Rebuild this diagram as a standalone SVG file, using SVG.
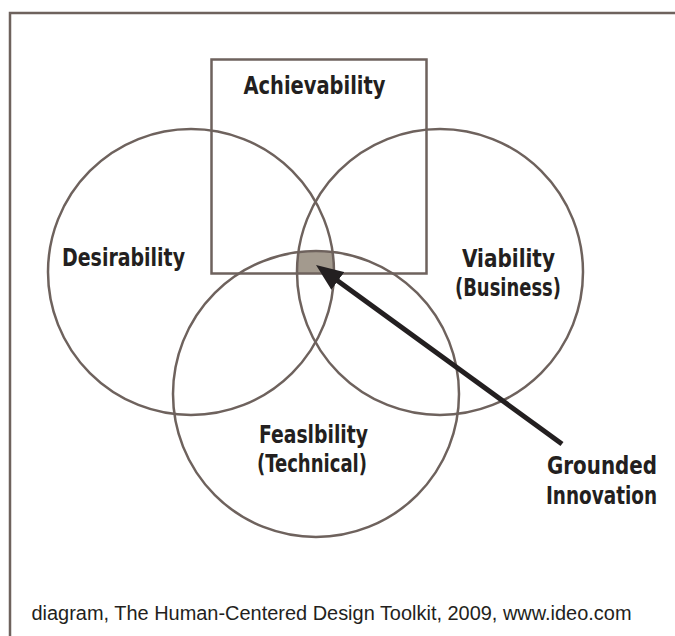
<svg xmlns="http://www.w3.org/2000/svg" width="675" height="636" viewBox="0 0 675 636">
<style>
.shape{fill:none;stroke:#6e625d;stroke-width:2.5}
.lbl{font-family:"DejaVu Sans Condensed","DejaVu Sans",sans-serif;font-weight:bold;font-size:24px;fill:#231f20;text-anchor:middle}
.foot{font-family:"Liberation Sans",Arial,sans-serif;font-size:20px;fill:#231f20}
.arrow{stroke:#231f20;stroke-width:5;fill:none}
</style>
<defs>
<marker id="head" markerUnits="userSpaceOnUse" markerWidth="27" markerHeight="22" refX="5" refY="11" orient="auto">
<path d="M0,0 L27,11 L0,22 Z" fill="#231f20"/>
</marker>
</defs>
<rect width="675" height="636" fill="#ffffff"/>
<g id="frame">
<path class="shape" d="M10,636 L10,13 L675,13"/>
</g>
<g id="grounded-innovation-area">
<path d="M298.4,252.1 A143,143 0 0 1 332.6,252 A143,143 0 0 1 334,273.5 L297,273.5 A143,143 0 0 1 298.4,252.1 Z" fill="#a39a8e"/>
</g>
<g id="achievability">
<rect class="shape" x="211.5" y="59.5" width="215" height="214"/>
<text class="lbl" x="314.5" y="94" textLength="142" lengthAdjust="spacingAndGlyphs">Achievability</text>
</g>
<g id="desirability">
<circle class="shape" cx="191" cy="272" r="143"/>
<text class="lbl" x="123.5" y="266" textLength="123" lengthAdjust="spacingAndGlyphs">Desirability</text>
</g>
<g id="viability">
<circle class="shape" cx="440" cy="272" r="143"/>
<text class="lbl" x="508.5" y="267" textLength="93" lengthAdjust="spacingAndGlyphs">Viability</text>
<text class="lbl" x="508" y="296" textLength="106" lengthAdjust="spacingAndGlyphs">(Business)</text>
</g>
<g id="feasibility">
<circle class="shape" cx="316" cy="394" r="143"/>
<text class="lbl" x="313.5" y="443" textLength="109" lengthAdjust="spacingAndGlyphs">Feaslbility</text>
<text class="lbl" x="312" y="472" textLength="110" lengthAdjust="spacingAndGlyphs">(Technical)</text>
</g>
<g id="grounded-innovation">
<text class="lbl" x="602" y="474" textLength="110" lengthAdjust="spacingAndGlyphs">Grounded</text>
<text class="lbl" x="601.5" y="504" textLength="111" lengthAdjust="spacingAndGlyphs">Innovation</text>
</g>
<g id="connectors">
<line class="arrow" x1="562" y1="444" x2="333.8" y2="278" marker-end="url(#head)"/>
</g>
<g id="footer">
<text class="foot" x="31.5" y="620" textLength="600" lengthAdjust="spacingAndGlyphs">diagram, The Human-Centered Design Toolkit, 2009, www.ideo.com</text>
</g>
</svg>
